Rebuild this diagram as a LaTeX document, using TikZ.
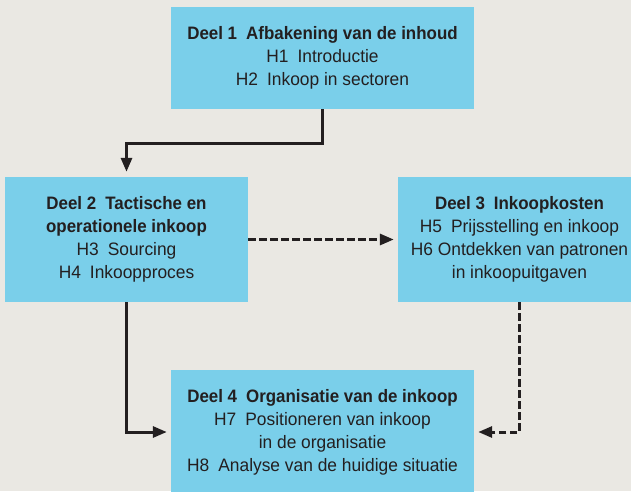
\documentclass[tikz,border=0pt]{standalone}
\usepackage{fontspec}
\setmainfont{Liberation Sans}[FakeStretch=0.965, BoldFeatures={FakeStretch=0.94}]
\usetikzlibrary{arrows.meta}
\definecolor{paper}{HTML}{EAE8E3}
\definecolor{partblue}{HTML}{7ACFEA}
\definecolor{ink}{HTML}{231F20}
\tikzset{
  part/.style={fill=partblue, draw=none, align=center, text=ink,
    font=\fontsize{18}{23}\selectfont, inner sep=0pt},
  link/.style={draw=ink, line width=3pt,
    -{Triangle[length=14pt,width=11pt]}, shorten >=4pt},
  optional/.style={link, dash pattern=on 7.5pt off 3.5pt},
}
\begin{document}
\begin{tikzpicture}[x=1pt,y=-1pt]
  \useasboundingbox (0,0) rectangle (631,491);
  \fill[paper] (0,0) rectangle (631,491);
  \clip (0,0) rectangle (631,491);

  \node[part, minimum width=303pt, minimum height=102pt] (b1) at (322.5,58)
    {\textbf{Deel 1\enspace Afbakening van de inhoud}\\
     H1\enspace Introductie\\
     H2\enspace Inkoop in sectoren};
  \node[part, minimum width=243pt, minimum height=125pt] (b2) at (126.5,239.5)
    {\textbf{Deel 2\enspace Tactische en}\\
     \textbf{operationele inkoop}\\
     H3\enspace Sourcing\\
     H4\enspace Inkoopproces};
  \node[part, minimum width=243pt, minimum height=125pt] (b3) at (519.5,239.5)
    {\textbf{Deel 3\enspace Inkoopkosten}\\
     H5\enspace Prijsstelling en inkoop\\
     H6 Ontdekken van patronen\\
     in inkoopuitgaven};
  \node[part, minimum width=303pt, minimum height=124pt] (b4) at (322.5,432)
    {\textbf{Deel 4\enspace Organisatie van de inkoop}\\
     H7\enspace Positioneren van inkoop\\
     in de organisatie\\
     H8\enspace Analyse van de huidige situatie};

  \draw[link, shorten >=5pt] (b1.south) -- ++(0,34) -| (b2.north);
  \draw[optional] (b2.east) -- (b3.west);
  \draw[link] (b2.south) |- (b4.west);
  \draw[optional] (b3.south) |- (b4.east);
\end{tikzpicture}
\end{document}
